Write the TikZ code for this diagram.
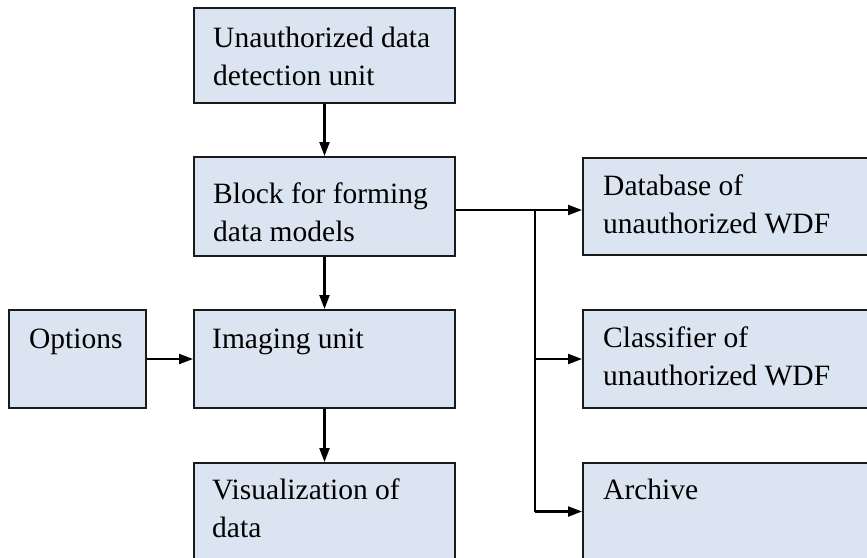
\documentclass[tikz,border=0pt]{standalone}
\usepackage{fontspec}
\setmainfont{Liberation Serif}
\usetikzlibrary{arrows.meta,calc}
\definecolor{boxfill}{HTML}{DBE5F1}
\definecolor{edge}{HTML}{1A1A1A}
\begin{document}
\begin{tikzpicture}[x=1pt,y=-1pt,
  box/.style={draw=edge,fill=boxfill,line width=2pt,rectangle,inner sep=0pt,anchor=north west},
  txt/.style={anchor=base west,inner sep=0pt,font=\fontsize{29.5}{38}\selectfont},
  conn/.style={line width=2.2pt,draw=black},
  arr/.style={conn,-{Triangle[length=14pt,width=10pt]}}]
\useasboundingbox (0,0) rectangle (867,557);
\clip (0,0) rectangle (867,557);
% boxes
\node[box,minimum width=261pt,minimum height=95pt] (top) at (193,7) {};
\node[box,minimum width=261pt,minimum height=99pt] (block) at (193,156) {};
\node[box,minimum width=137pt,minimum height=98pt] (opt) at (8,309) {};
\node[box,minimum width=261pt,minimum height=98pt] (img) at (193,309) {};
\node[box,minimum width=261pt,minimum height=97pt] (vis) at (193,462) {};
\node[box,minimum width=318pt,minimum height=97pt] (db) at (582,157) {};
\node[box,minimum width=318pt,minimum height=98pt] (cls) at (582,309) {};
\node[box,minimum width=318pt,minimum height=97pt] (arch) at (582,462) {};
% texts
\node[txt] (t1a) at (213,47) {Unauthorized data};
\node[txt] (t1b) at (213,85) {detection unit};
\node[txt] (t2a) at (213,203) {Block for forming};
\node[txt] (t2b) at (213,241) {data models};
\node[txt] (t3) at (29,348) {Options};
\node[txt] (t4) at (212,348) {Imaging unit};
\node[txt] (t5a) at (212,499) {Visualization of};
\node[txt] (t5b) at (212,537) {data};
\node[txt] (t6a) at (603,195) {Database of};
\node[txt] (t6b) at (603,233) {unauthorized WDF};
\node[txt] (t7a) at (603,347) {Classifier of};
\node[txt] (t7b) at (603,385) {unauthorized WDF};
\node[txt] (t8) at (603,499) {Archive};
% connectors
\draw[arr] (top.south) -- (block.north);
\draw[arr] (block.south) -- (img.north);
\draw[arr] (img.south) -- (vis.north);
\draw[arr] (opt.east) -- (img.west);
\coordinate (j) at (535,210);
\draw[arr] (block.east |- j) -- (db.west |- j);
\draw[conn] (j) -- (j |- arch.west);
\draw[arr] (j |- cls.west) -- (cls.west);
\draw[arr] (j |- arch.west) -- (arch.west);
\end{tikzpicture}
\end{document}
